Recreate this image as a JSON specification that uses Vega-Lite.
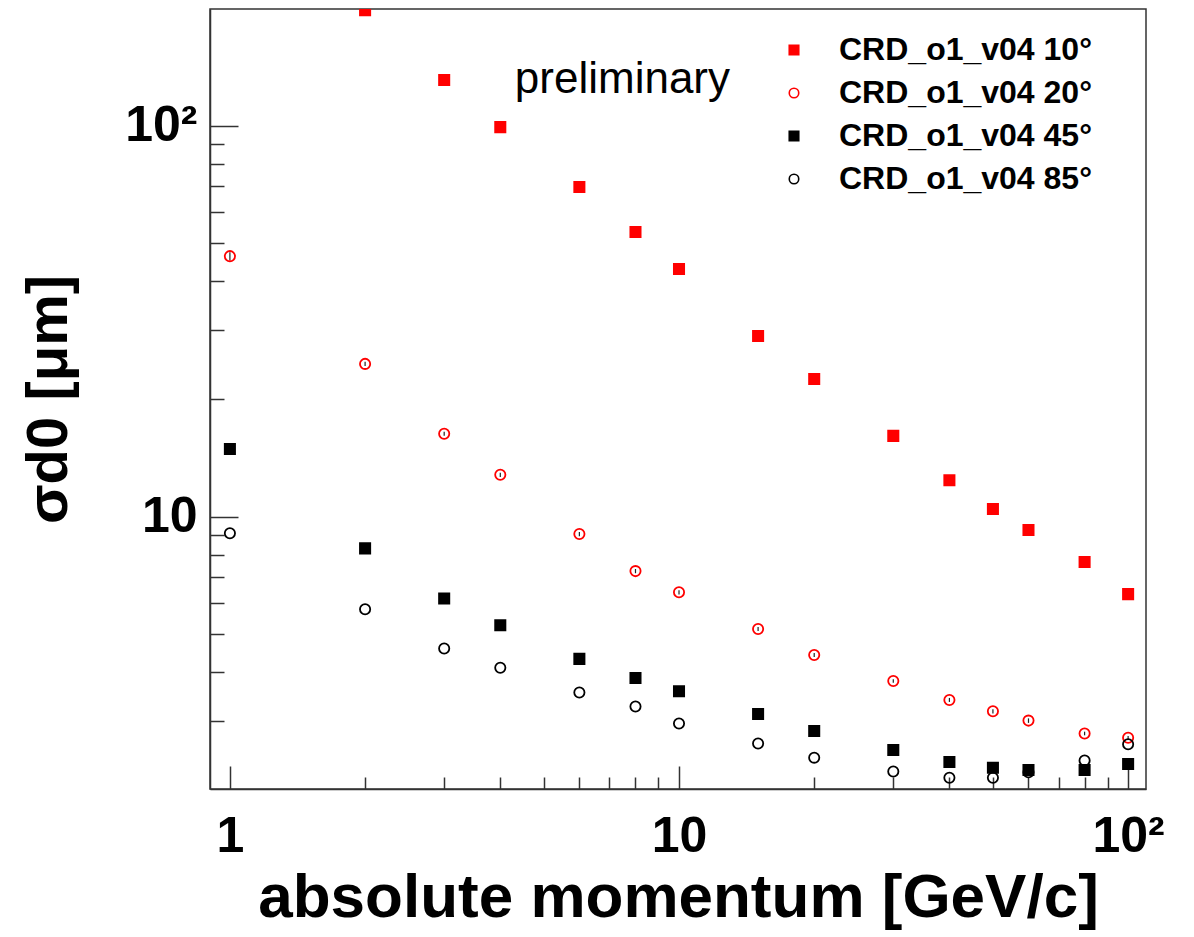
{
  "$schema": "https://vega.github.io/schema/vega-lite/v6.json",
  "width": 936,
  "height": 780,
  "autosize": {"type": "none"},
  "padding": {"left": 210, "top": 9, "right": 48, "bottom": 148},
  "background": "white",
  "config": {
    "view": {"stroke": "#333", "strokeWidth": 1.5},
    "font": "Liberation Sans",
    "axis": {"grid": false, "domainColor": "#333", "domainWidth": 1.5, "tickColor": "#333", "tickWidth": 1.5, "labelFont": "Liberation Sans", "labelFontWeight": "bold", "labelColor": "black", "labelFontSize": 50, "titleFont": "Liberation Sans", "titleFontWeight": "bold", "titleColor": "black", "labelOverlap": false, "labelBound": false, "labelFlush": false}
  },
  "datasets": {
    "pts": [
      {"p": 2, "sigma": 197.6, "series": "CRD_o1_v04 10°"},
      {"p": 3, "sigma": 130.9, "series": "CRD_o1_v04 10°"},
      {"p": 4, "sigma": 99.2, "series": "CRD_o1_v04 10°"},
      {"p": 6, "sigma": 69.7, "series": "CRD_o1_v04 10°"},
      {"p": 8, "sigma": 53.5, "series": "CRD_o1_v04 10°"},
      {"p": 10, "sigma": 43.0, "series": "CRD_o1_v04 10°"},
      {"p": 15, "sigma": 29.0, "series": "CRD_o1_v04 10°"},
      {"p": 20, "sigma": 22.5, "series": "CRD_o1_v04 10°"},
      {"p": 30, "sigma": 16.1, "series": "CRD_o1_v04 10°"},
      {"p": 40, "sigma": 12.4, "series": "CRD_o1_v04 10°"},
      {"p": 50, "sigma": 10.46, "series": "CRD_o1_v04 10°"},
      {"p": 60, "sigma": 9.25, "series": "CRD_o1_v04 10°"},
      {"p": 80, "sigma": 7.66, "series": "CRD_o1_v04 10°"},
      {"p": 100, "sigma": 6.34, "series": "CRD_o1_v04 10°"},
      {"p": 1, "sigma": 46.4, "series": "CRD_o1_v04 20°"},
      {"p": 2, "sigma": 24.6, "series": "CRD_o1_v04 20°"},
      {"p": 3, "sigma": 16.3, "series": "CRD_o1_v04 20°"},
      {"p": 4, "sigma": 12.8, "series": "CRD_o1_v04 20°"},
      {"p": 6, "sigma": 9.03, "series": "CRD_o1_v04 20°"},
      {"p": 8, "sigma": 7.26, "series": "CRD_o1_v04 20°"},
      {"p": 10, "sigma": 6.41, "series": "CRD_o1_v04 20°"},
      {"p": 15, "sigma": 5.16, "series": "CRD_o1_v04 20°"},
      {"p": 20, "sigma": 4.43, "series": "CRD_o1_v04 20°"},
      {"p": 30, "sigma": 3.80, "series": "CRD_o1_v04 20°"},
      {"p": 40, "sigma": 3.40, "series": "CRD_o1_v04 20°"},
      {"p": 50, "sigma": 3.18, "series": "CRD_o1_v04 20°"},
      {"p": 60, "sigma": 3.01, "series": "CRD_o1_v04 20°"},
      {"p": 80, "sigma": 2.79, "series": "CRD_o1_v04 20°"},
      {"p": 100, "sigma": 2.72, "series": "CRD_o1_v04 20°"},
      {"p": 1, "sigma": 14.9, "series": "CRD_o1_v04 45°"},
      {"p": 2, "sigma": 8.30, "series": "CRD_o1_v04 45°"},
      {"p": 3, "sigma": 6.18, "series": "CRD_o1_v04 45°"},
      {"p": 4, "sigma": 5.28, "series": "CRD_o1_v04 45°"},
      {"p": 6, "sigma": 4.33, "series": "CRD_o1_v04 45°"},
      {"p": 8, "sigma": 3.87, "series": "CRD_o1_v04 45°"},
      {"p": 10, "sigma": 3.58, "series": "CRD_o1_v04 45°"},
      {"p": 15, "sigma": 3.13, "series": "CRD_o1_v04 45°"},
      {"p": 20, "sigma": 2.83, "series": "CRD_o1_v04 45°"},
      {"p": 30, "sigma": 2.53, "series": "CRD_o1_v04 45°"},
      {"p": 40, "sigma": 2.36, "series": "CRD_o1_v04 45°"},
      {"p": 50, "sigma": 2.28, "series": "CRD_o1_v04 45°"},
      {"p": 60, "sigma": 2.25, "series": "CRD_o1_v04 45°"},
      {"p": 80, "sigma": 2.25, "series": "CRD_o1_v04 45°"},
      {"p": 100, "sigma": 2.33, "series": "CRD_o1_v04 45°"},
      {"p": 1, "sigma": 9.07, "series": "CRD_o1_v04 85°"},
      {"p": 2, "sigma": 5.80, "series": "CRD_o1_v04 85°"},
      {"p": 3, "sigma": 4.60, "series": "CRD_o1_v04 85°"},
      {"p": 4, "sigma": 4.11, "series": "CRD_o1_v04 85°"},
      {"p": 6, "sigma": 3.55, "series": "CRD_o1_v04 85°"},
      {"p": 8, "sigma": 3.27, "series": "CRD_o1_v04 85°"},
      {"p": 10, "sigma": 2.96, "series": "CRD_o1_v04 85°"},
      {"p": 15, "sigma": 2.63, "series": "CRD_o1_v04 85°"},
      {"p": 20, "sigma": 2.42, "series": "CRD_o1_v04 85°"},
      {"p": 30, "sigma": 2.23, "series": "CRD_o1_v04 85°"},
      {"p": 40, "sigma": 2.15, "series": "CRD_o1_v04 85°"},
      {"p": 50, "sigma": 2.15, "series": "CRD_o1_v04 85°"},
      {"p": 60, "sigma": 2.22, "series": "CRD_o1_v04 85°"},
      {"p": 80, "sigma": 2.38, "series": "CRD_o1_v04 85°"},
      {"p": 100, "sigma": 2.62, "series": "CRD_o1_v04 85°"}
    ],
    "err": [
      {"p": 1, "lo": 45.3, "hi": 47.5},
      {"p": 2, "lo": 24.3, "hi": 24.9},
      {"p": 3, "lo": 16.1, "hi": 16.5},
      {"p": 4, "lo": 12.64, "hi": 12.96},
      {"p": 6, "lo": 8.92, "hi": 9.14},
      {"p": 8, "lo": 7.17, "hi": 7.35},
      {"p": 10, "lo": 6.33, "hi": 6.49},
      {"p": 15, "lo": 5.10, "hi": 5.22},
      {"p": 20, "lo": 4.38, "hi": 4.48},
      {"p": 30, "lo": 3.76, "hi": 3.84},
      {"p": 40, "lo": 3.36, "hi": 3.44},
      {"p": 50, "lo": 3.14, "hi": 3.22},
      {"p": 60, "lo": 2.97, "hi": 3.05},
      {"p": 80, "lo": 2.76, "hi": 2.82},
      {"p": 100, "lo": 2.69, "hi": 2.75}
    ],
    "note": [
      {"p": 4.31, "sigma": 121.4, "t": "preliminary"}
    ]
  },
  "layer": [
    {
      "data": {"name": "err"},
      "mark": {"type": "rule", "color": "#222", "strokeWidth": 1.2},
      "encoding": {
        "x": {"field": "p", "type": "quantitative"},
        "y": {"field": "lo", "type": "quantitative"},
        "y2": {"field": "hi"}
      }
    },
    {
      "data": {"name": "pts"},
      "mark": {"type": "point", "filled": true, "strokeWidth": 1.8, "opacity": 1, "size": 105, "clip": true},
      "encoding": {
        "x": {
          "field": "p", "type": "quantitative",
          "scale": {"type": "log", "domain": [0.903, 109.6], "nice": false, "zero": false},
          "axis": {
            "title": "absolute momentum [GeV/c]",
            "titleFontSize": 62,
            "titlePadding": -5,
            "values": [1, 2, 3, 4, 5, 6, 7, 8, 9, 10, 20, 30, 40, 50, 60, 70, 80, 90, 100],
            "tickSize": {"condition": {"test": "datum.value == 1 || datum.value == 10 || datum.value == 100", "value": -23}, "value": -12},
            "labelPadding": 45,
            "labelExpr": "datum.value == 100 ? '10²' : datum.value == 10 ? '10' : datum.value == 1 ? '1' : ''"
          }
        },
        "y": {
          "field": "sigma", "type": "quantitative",
          "scale": {"type": "log", "domain": [2.012, 198.9], "nice": false, "zero": false},
          "axis": {
            "title": "σd0 [μm]",
            "titleFontSize": 58,
            "titlePadding": 46,
            "values": [3, 4, 5, 6, 7, 8, 9, 10, 20, 30, 40, 50, 60, 70, 80, 90, 100],
            "tickSize": {"condition": {"test": "datum.value == 10 || datum.value == 100", "value": -28}, "value": -14},
            "labelPadding": 41,
            "labelExpr": "datum.value == 100 ? '10²' : datum.value == 10 ? '10' : ''"
          }
        },
        "shape": {
          "field": "series", "type": "nominal",
          "scale": {"domain": ["CRD_o1_v04 10°", "CRD_o1_v04 20°", "CRD_o1_v04 45°", "CRD_o1_v04 85°"], "range": ["square", "circle", "square", "circle"]},
          "legend": {"title": null}
        },
        "fill": {
          "field": "series", "type": "nominal",
          "scale": {"domain": ["CRD_o1_v04 10°", "CRD_o1_v04 20°", "CRD_o1_v04 45°", "CRD_o1_v04 85°"], "range": ["#ff0000", "transparent", "#000000", "transparent"]},
          "legend": {"title": null}
        },
        "stroke": {
          "field": "series", "type": "nominal",
          "scale": {"domain": ["CRD_o1_v04 10°", "CRD_o1_v04 20°", "CRD_o1_v04 45°", "CRD_o1_v04 85°"], "range": ["#ff0000", "#ff0000", "#000000", "#000000"]},
          "legend": {
            "title": null,
            "orient": "none",
            "legendX": 568,
            "legendY": 25,
            "labelFontSize": 32,
            "labelFontWeight": "bold",
            "labelFont": "Liberation Sans",
            "labelColor": "black",
            "labelLimit": 400,
            "labelOffset": 29,
            "rowPadding": 11,
            "symbolSize": 90,
            "symbolStrokeWidth": 1.6,
            "padding": 0
          }
        }
      }
    },
    {
      "data": {"name": "note"},
      "mark": {"type": "text", "align": "left", "baseline": "alphabetic", "font": "Liberation Sans", "fontSize": 44, "color": "black"},
      "encoding": {
        "x": {"field": "p", "type": "quantitative"},
        "y": {"field": "sigma", "type": "quantitative"},
        "text": {"field": "t"}
      }
    }
  ]
}
